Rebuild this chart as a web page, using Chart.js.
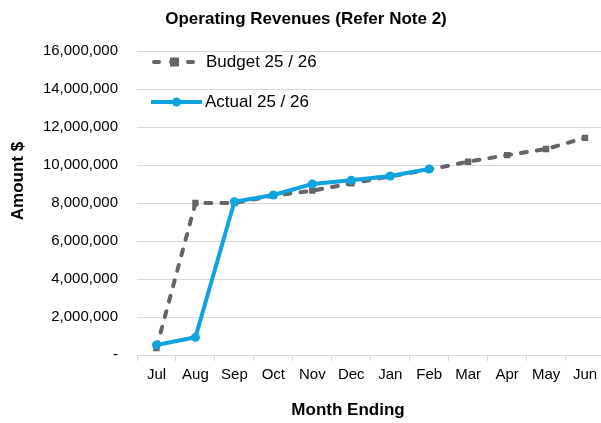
<!DOCTYPE html>
<html>
<head>
<meta charset="utf-8">
<script src="https://cdn.jsdelivr.net/npm/chart.js@4"></script>
<style>
  html, body { margin: 0; padding: 0; background: #fff; overflow: hidden; }
  #wrap { width: 609px; height: 423px; }
</style>
</head>
<body>
<div id="wrap"><canvas id="chart-rev"></canvas></div>
<script>
// ── Data ─────────────────────────────────────────────
const months = ['Jul', 'Aug', 'Sep', 'Oct', 'Nov', 'Dec', 'Jan', 'Feb', 'Mar', 'Apr', 'May', 'Jun'];
const budget = [370000, 8000000, 8000000, 8380000, 8650000, 9030000, 9400000, 9760000, 10170000, 10520000, 10840000, 11430000];
const actual = [530000, 930000, 8070000, 8420000, 9000000, 9200000, 9420000, 9790000, null, null, null, null];
const yTicks = [0, 2000000, 4000000, 6000000, 8000000, 10000000, 12000000, 14000000, 16000000];

const GREY = '#636569';
const BLUE = '#0fa3e0';
const GRID = '#d9d9d9';
const FONT = '"Liberation Sans", Arial, sans-serif';
Chart.defaults.font.family = FONT;
Chart.defaults.color = '#000';

// ── Titles + in-plot legend (drawn by hand) ──────────
const extras = {
  id: 'extras',
  afterDraw(chart) {
    const ctx = chart.ctx;
    ctx.save();
    ctx.fillStyle = '#000';
    ctx.textBaseline = 'middle';
    ctx.textAlign = 'center';
    ctx.font = 'bold 17px ' + FONT;
    ctx.fillText('Operating Revenues (Refer Note 2)', 306, 19);
    ctx.fillText('Month Ending', 348, 410);
    ctx.save();
    ctx.translate(18, 181);
    ctx.rotate(-Math.PI / 2);
    ctx.fillText('Amount $', 0, 0);
    ctx.restore();

    ctx.font = '17px ' + FONT;
    ctx.textAlign = 'left';
    // Budget row
    ctx.strokeStyle = GREY; ctx.lineWidth = 4; ctx.lineCap = 'round';
    ctx.setLineDash([5, 12]);
    ctx.beginPath(); ctx.moveTo(154, 62); ctx.lineTo(195, 62); ctx.stroke();
    ctx.setLineDash([]);
    ctx.fillStyle = GREY; ctx.fillRect(170, 57.5, 9, 9);
    ctx.fillStyle = '#000';
    ctx.fillText('Budget 25 / 26', 206, 62);
    // Actual row
    ctx.strokeStyle = BLUE; ctx.lineCap = 'butt';
    ctx.beginPath(); ctx.moveTo(151, 102); ctx.lineTo(202, 102); ctx.stroke();
    ctx.fillStyle = BLUE; ctx.beginPath(); ctx.arc(176.5, 102, 4.5, 0, Math.PI * 2); ctx.fill();
    ctx.fillStyle = '#000';
    ctx.fillText('Actual 25 / 26', 205, 102);
    ctx.restore();
  }
};

new Chart(document.getElementById('chart-rev'), {
  type: 'line',
  data: {
    labels: months,
    datasets: [
      { label: 'Budget 25 / 26', data: budget, order: 1, borderColor: GREY, backgroundColor: GREY,
        borderWidth: 4, borderDash: [6, 10], borderCapStyle: 'round', pointStyle: 'rect',
        pointRadius: 4.5, pointBorderWidth: 0, tension: 0 },
      { label: 'Actual 25 / 26', data: actual, order: 0, borderColor: BLUE, backgroundColor: BLUE,
        borderWidth: 4, pointStyle: 'circle', pointRadius: 4.5, pointBorderWidth: 0, tension: 0, spanGaps: false }
    ]
  },
  options: {
    responsive: true,
    maintainAspectRatio: false,
    animation: false,
    layout: { padding: { top: 51, right: 0, bottom: 0, left: 0 } },
    plugins: { legend: { display: false }, tooltip: { enabled: false } },
    scales: {
      x: {
        offset: true,
        grid: { display: true, drawOnChartArea: false, offset: true, color: GRID, tickLength: 6 },
        border: { color: GRID },
        ticks: { font: { size: 15 }, padding: 5, maxRotation: 0 },
        afterFit: s => { s.height = 68; }
      },
      y: {
        min: 0, max: 16000000,
        afterBuildTicks: s => { s.ticks = yTicks.map(v => ({ value: v })); },
        grid: { color: GRID, drawTicks: false },
        border: { display: false },
        ticks: {
          font: { size: 15 }, padding: 19,
          callback: v => v === 0 ? '-' : Number(v).toLocaleString('en-US')
        },
        afterFit: s => { s.width = 137; }
      }
    }
  },
  plugins: [extras]
});
</script>
</body>
</html>
